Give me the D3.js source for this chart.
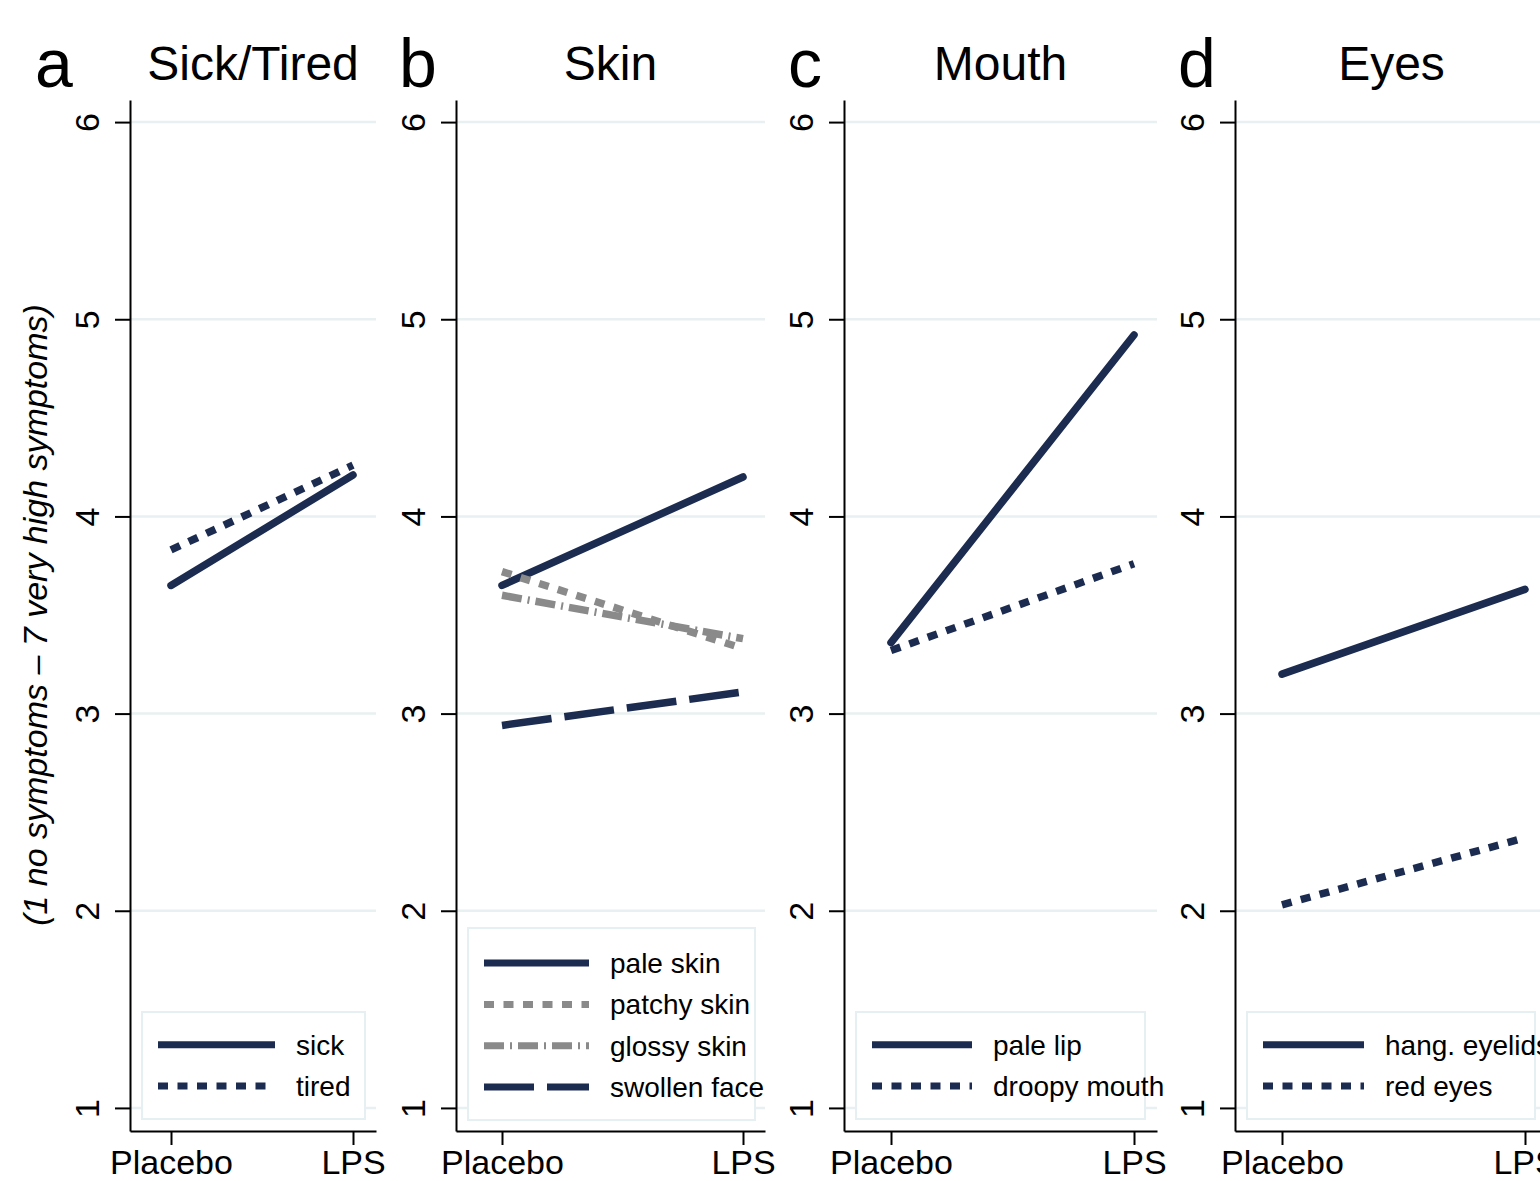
<!DOCTYPE html>
<html>
<head>
<meta charset="utf-8">
<script src="https://d3js.org/d3.v7.min.js"></script>
<style>
  body { margin: 0; background: #fff; }
  text { font-family: "Liberation Sans", Arial, Helvetica, sans-serif; fill: #000; }
</style>
</head>
<body>
<div id="chart-area"></div>
<script>
// data
var conditions = ["Placebo", "LPS"];
var yTicks = [1, 2, 3, 4, 5, 6];
var panelLetters = ["a", "b", "c", "d"];
var panelTitles = ["Sick/Tired", "Skin", "Mouth", "Eyes"];
var yTitle = "(1 no symptoms \u2013 7 very high symptoms)";

var sickTiredNames = ["sick", "tired"];
var sickTiredValues = [[3.65, 4.21], [3.83, 4.26]];

var skinNames = ["pale skin", "patchy skin", "glossy skin", "swollen face"];
var skinValues = [[3.65, 4.20], [3.72, 3.33], [3.60, 3.38], [2.94, 3.11]];

var mouthNames = ["pale lip", "droopy mouth"];
var mouthValues = [[3.36, 4.92], [3.32, 3.76]];

var eyesNames = ["hang. eyelids", "red eyes"];
var eyesValues = [[3.20, 3.63], [2.03, 2.37]];

var navy = "#1c2b50";
var gray = "#8a8a8a";

var styles = {
  solid:    { color: navy, dash: null, cap: "round" },
  dot:      { color: navy, dash: "10,9.5", cap: "butt" },
  grayDot:  { color: gray, dash: "10,9.5", cap: "butt" },
  grayDash: { color: gray, dash: "20,6,2,6", cap: "butt" },
  dash:     { color: navy, dash: "50,13", cap: "butt" }
};

var panels = [
  { names: sickTiredNames, values: sickTiredValues, styles: ["solid", "dot"],
    left: 130, right: 376, px0: 171, px1: 353, letterX: 35,
    legend: { x: 142, y: 1012, w: 223, h: 107, swatch: 117 } },
  { names: skinNames, values: skinValues, styles: ["solid", "grayDot", "grayDash", "dash"],
    left: 456, right: 765, px0: 502, px1: 743, letterX: 399,
    legend: { x: 468, y: 928, w: 287, h: 192, swatch: 105 } },
  { names: mouthNames, values: mouthValues, styles: ["solid", "dot"],
    left: 844, right: 1157, px0: 891, px1: 1134, letterX: 788,
    legend: { x: 856, y: 1012, w: 289, h: 107, swatch: 100 } },
  { names: eyesNames, values: eyesValues, styles: ["solid", "dot"],
    left: 1235, right: 1548, px0: 1282, px1: 1525, letterX: 1178,
    legend: { x: 1247, y: 1012, w: 288, h: 107, swatch: 101 } }
];

var width = 1540, height = 1181;

var svg = d3.select("#chart-area").append("svg")
    .attr("width", width)
    .attr("height", height);

svg.append("rect")
    .attr("width", width)
    .attr("height", height)
    .attr("fill", "#fff");

var y = d3.scaleLinear()
    .domain([0.883, 6.112])
    .range([1131, 100]);

// y axis title
svg.append("text")
    .attr("transform", "translate(35," + ((y(1) + y(6)) / 2) + ") rotate(-90)")
    .attr("text-anchor", "middle")
    .attr("dy", "0.35em")
    .style("font-size", "34px")
    .style("font-style", "italic")
    .text(yTitle);

panels.forEach(function(p, k) {

  var x = d3.scaleLinear().domain([0, 1]).range([p.px0, p.px1]);
  x.domain([x.invert(p.left), x.invert(p.right)]).range([p.left, p.right]);

  var g = svg.append("g").attr("class", "panel");

  // gridlines
  g.selectAll(".grid")
      .data(yTicks)
      .enter().append("line")
      .attr("class", "grid")
      .attr("x1", p.left)
      .attr("x2", p.right)
      .attr("y1", d => y(d))
      .attr("y2", d => y(d))
      .attr("stroke", "#e8f0f1")
      .attr("stroke-width", 2.5);

  // y axis
  var yAxis = g.append("g")
      .attr("transform", "translate(" + p.left + ",0)")
      .call(d3.axisLeft(y).tickValues(yTicks).tickSize(15).tickSizeOuter(0).tickFormat(d3.format("d")));

  yAxis.select(".domain").attr("stroke", "#000").attr("stroke-width", 2);
  yAxis.selectAll(".tick line").attr("stroke", "#000").attr("stroke-width", 2);
  yAxis.selectAll(".tick text")
      .attr("x", 0)
      .attr("dy", "0.35em")
      .attr("text-anchor", "middle")
      .attr("transform", "translate(-43,0) rotate(-90)")
      .style("font-size", "34px")
      .style("font-family", "'Liberation Sans', Arial, sans-serif")
      .attr("fill", "#000");

  // x axis
  var xAxis = g.append("g")
      .attr("transform", "translate(0," + y.range()[0] + ")")
      .call(d3.axisBottom(x).tickValues([0, 1]).tickSize(14).tickSizeOuter(0)
          .tickFormat(function(i) { return conditions[i]; }));

  xAxis.select(".domain").attr("stroke", "#000").attr("stroke-width", 2);
  xAxis.selectAll(".tick line").attr("stroke", "#000").attr("stroke-width", 2);
  xAxis.selectAll(".tick text")
      .attr("y", 19)
      .attr("dy", "0.71em")
      .style("font-size", "34px")
      .style("font-family", "'Liberation Sans', Arial, sans-serif")
      .attr("fill", "#000");

  // lines
  var line = d3.line()
      .x((d, i) => x(i))
      .y(d => y(d));

  p.values.forEach(function(vals, i) {
    var s = styles[p.styles[i]];
    g.append("path")
        .datum(vals)
        .attr("d", line)
        .attr("fill", "none")
        .attr("stroke", s.color)
        .attr("stroke-width", 7.5)
        .attr("stroke-linecap", s.cap)
        .attr("stroke-dasharray", s.dash);
  });

  // legend
  var lg = p.legend;
  var legend = g.append("g").attr("class", "legend");
  legend.append("rect")
      .attr("x", lg.x)
      .attr("y", lg.y)
      .attr("width", lg.w)
      .attr("height", lg.h)
      .attr("fill", "#fff")
      .attr("stroke", "#e6eff1")
      .attr("stroke-width", 2);

  var n = p.names.length;
  p.names.forEach(function(name, i) {
    var ry = lg.y + lg.h - 33 - (n - 1 - i) * 41.3;
    var s = styles[p.styles[i]];
    legend.append("line")
        .attr("x1", lg.x + 16)
        .attr("x2", lg.x + 16 + lg.swatch)
        .attr("y1", ry)
        .attr("y2", ry)
        .attr("stroke", s.color)
        .attr("stroke-width", 7)
        .attr("stroke-dasharray", s.dash);
    legend.append("text")
        .attr("x", lg.x + 16 + lg.swatch + 21)
        .attr("y", ry)
        .attr("dy", "0.35em")
        .style("font-size", "28px")
        .text(name);
  });

  // titles
  svg.append("text")
      .attr("x", p.letterX)
      .attr("y", 87)
      .style("font-size", "68px")
      .text(panelLetters[k]);

  svg.append("text")
      .attr("x", (p.left + p.right) / 2)
      .attr("y", 80)
      .attr("text-anchor", "middle")
      .style("font-size", "48px")
      .text(panelTitles[k]);
});
</script>
</body>
</html>
